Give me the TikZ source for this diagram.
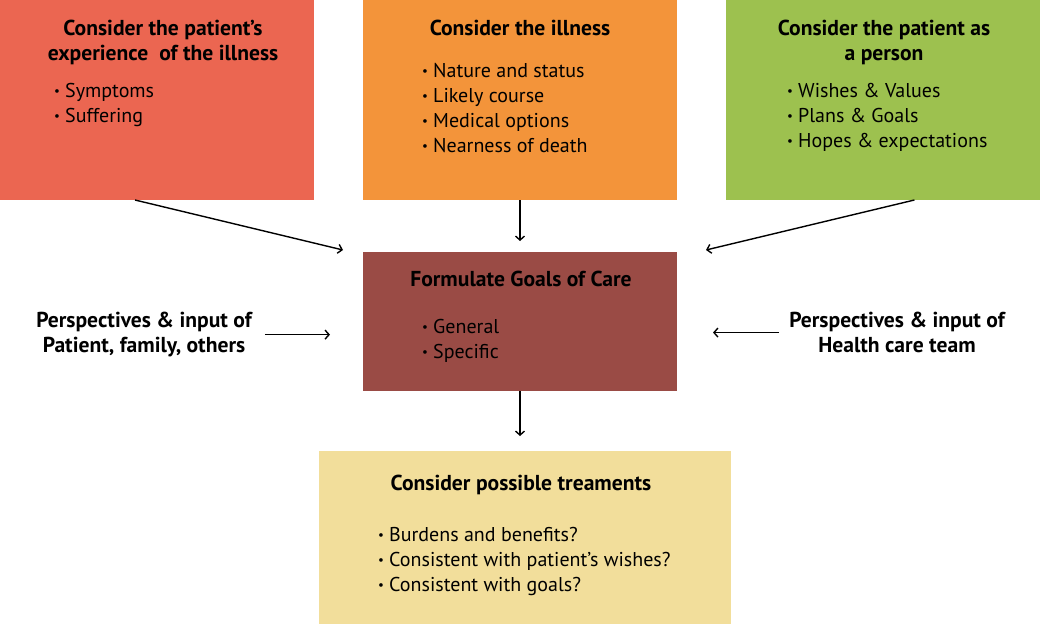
\documentclass[tikz,border=0pt]{standalone}
\usepackage{fontspec}
\setmainfont{PT Sans}
\usetikzlibrary{arrows.meta,calc}
\newcommand\itm{\makebox[11pt][l]{\fontsize{13}{13}\selectfont\raisebox{2pt}{•}}}

\begin{document}
\begin{tikzpicture}[x=1pt, y=-1pt, >={Straight Barb[length=4pt,width=9pt]}, every node/.style={font=\fontsize{20}{25}\selectfont, inner sep=0pt}, box/.style={minimum width=314pt, minimum height=200pt, outer sep=0pt}, head/.style={font=\fontsize{21.6}{25}\selectfont\bfseries, align=center, anchor=north}, items/.style={align=left, anchor=north west}, link/.style={->, line width=1.4pt}]
\definecolor{ExpRed}{HTML}{EB6651}\definecolor{IllOrange}{HTML}{F3943A}\definecolor{PersonGreen}{HTML}{9DC14F}\definecolor{GoalsBrown}{HTML}{9A4B45}\definecolor{TreatYellow}{HTML}{F2DE9B}
\fill[white] (0,0) rectangle (1040,624); \useasboundingbox (0,0) rectangle (1040,624);
% the five boxes
\node[box, fill=ExpRed] (exp) at (157,100) {};
\node[box, fill=IllOrange] (ill) at (520,100) {};
\node[box, fill=PersonGreen] (person) at (883,100) {};
\node[box, fill=GoalsBrown, minimum height=139pt] (goals) at (520,321.5) {};
\node[box, fill=TreatYellow, minimum width=412pt, minimum height=173pt] (treat) at (525,537.5) {};
% texts
\node[head] (expT) at (163,20) {Consider the patient’s\\experience\ \ of the illness};
\node[items] (expL) at (54,83) {\itm Symptoms\\\itm Suffering};
\node[head] (illT) at (520,20) {Consider the illness};
\node[items] (illL) at (422,63) {\itm Nature and status\\\itm Likely course\\\itm Medical options\\\itm Nearness of death};
\node[head] (personT) at (884,20) {Consider the patient as\\a person};
\node[items] (personL) at (787,83) {\itm Wishes \& Values\\\itm Plans \& Goals\\\itm Hopes \& expectations};
\node[head] (goalsT) at (521,271) {Formulate Goals of Care};
\node[items] (goalsL) at (422,319) {\itm General\\\itm Specific};
\node[head] (famT) at (144,312) {Perspectives \& input of\\Patient, family, others};
\node[head] (teamT) at (897,312) {Perspectives \& input of\\Health care team};
\node[head] (treatT) at (521,475) {Consider possible treaments};
\node[items] (treatL) at (378,527) {\itm Burdens and benefits?\\\itm Consistent with patient’s wishes?\\\itm Consistent with goals?};
% connectors
\coordinate (expfoot) at ($(exp.south west)!.43!(exp.south east)$); \coordinate (personfoot) at ($(person.south west)!.6!(person.south east)$);
\coordinate (goalsinL) at ($(goals.north west)+(-20,-2)$); \coordinate (goalsinR) at ($(goals.north east)+(29,-2)$);
\draw[link] (expfoot) -- (goalsinL);
\draw[link, shorten >=11pt] (ill.south) -- (goals.north);
\draw[link] (personfoot) -- (goalsinR);
\draw[link, shorten <=13pt, shorten >=33pt] (famT.east) -- (famT.east -| goals.west);
\draw[link, shorten <=10pt, shorten >=36pt] (teamT.west) -- (teamT.west -| goals.east);
\draw[link, shorten >=15pt] (goals.south) -- (goals.south |- treat.north);
\end{tikzpicture}
\end{document}
